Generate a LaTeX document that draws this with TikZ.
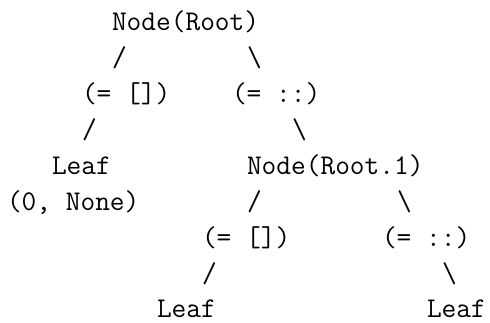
\documentclass[tikz,border=0pt]{standalone}
\begin{document}
\begin{tikzpicture}[x=1pt,y=1pt,
  txt/.style={anchor=base west, inner sep=0pt, outer sep=0pt,
    font=\ttfamily\fontsize{28.57pt}{36pt}\selectfont}]
\useasboundingbox (0,0) rectangle (490,322);
% columns: x = 7 + 15*c ; rows: baselines
\node[txt] (root)  at (7+15*7, 291.3) {Node(Root)};
\node[txt] (s1l)   at (7+15*7, 255.4) {/};
\node[txt] (s1r)   at (7+15*16,255.4) {\textbackslash};
\node[txt] (eqA)   at (7+15*5, 219.5) {(= [])};
\node[txt] (eqB)   at (7+15*15,219.5) {(= ::)};
\node[txt] (s2l)   at (7+15*5, 183.6) {/};
\node[txt] (s2r)   at (7+15*19,183.6) {\textbackslash};
\node[txt] (leafA) at (7+15*3, 147.7) {Leaf};
\node[txt] (node1) at (7+15*16,147.7) {Node(Root.1)};
\node[txt] (none)  at (7+15*0, 111.8) {(0, None)};
\node[txt] (s3l)   at (7+15*16,111.8) {/};
\node[txt] (s3r)   at (7+15*26,111.8) {\textbackslash};
\node[txt] (eqC)   at (7+15*13, 75.9) {(= [])};
\node[txt] (eqD)   at (7+15*25, 75.9) {(= ::)};
\node[txt] (s4l)   at (7+15*13, 40.0) {/};
\node[txt] (s4r)   at (7+15*29, 40.0) {\textbackslash};
\node[txt] (leafB) at (7+15*10,  4.1) {Leaf};
\node[txt] (leafC) at (7+15*28,  4.1) {Leaf};
\end{tikzpicture}
\end{document}
